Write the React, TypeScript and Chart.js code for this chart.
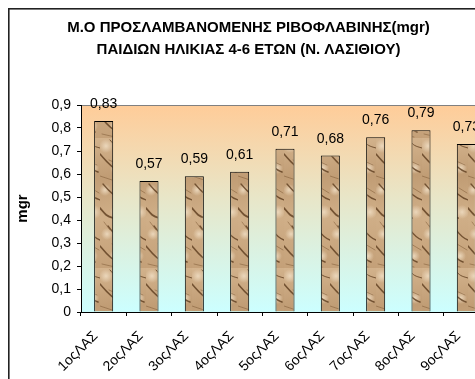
import React, { useEffect, useRef } from 'react';
import { Chart, registerables } from 'chart.js';

Chart.register(...registerables);

const categories = ['1οςΛΑΣ', '2οςΛΑΣ', '3οςΛΑΣ', '4οςΛΑΣ', '5οςΛΑΣ', '6οςΛΑΣ', '7οςΛΑΣ', '8οςΛΑΣ', '9οςΛΑΣ'];
const values = [0.83, 0.57, 0.59, 0.61, 0.71, 0.68, 0.76, 0.79, 0.73];
const titleLines = ['Μ.Ο ΠΡΟΣΛΑΜΒΑΝΟΜΕΝΗΣ ΡΙΒΟΦΛΑΒΙΝΗΣ(mgr)', 'ΠΑΙΔΙΩΝ ΗΛΙΚΙΑΣ 4-6 ΕΤΩΝ (Ν. ΛΑΣΙΘΙΟΥ)'];
const yAxisTitle = 'mgr';
const yMin = 0;
const yMax = 0.9;
const yStep = 0.1;

const W = 495;
const H = 400;
const FONT = '"Liberation Sans", Arial, sans-serif';

const fmt = (v: number, d: number) => (v === 0 ? '0' : v.toFixed(d).replace('.', ','));

function makeTexture(ctx: CanvasRenderingContext2D) {
  const tw = 23;
  const th = 130;
  const c = document.createElement('canvas');
  c.width = tw;
  c.height = th;
  const g = c.getContext('2d')!;
  const grad = g.createLinearGradient(0, 0, tw, th);
  grad.addColorStop(0, '#d4b48e');
  grad.addColorStop(0.3, '#c09c74');
  grad.addColorStop(0.6, '#d0af88');
  grad.addColorStop(1, '#c4a078');
  g.fillStyle = grad;
  g.fillRect(0, 0, tw, th);
  const light = [[6, 8, 7], [16, 30, 6], [5, 52, 6], [17, 74, 7], [7, 96, 6], [15, 118, 6]];
  light.forEach(([x, y, r]) => {
    const rg = g.createRadialGradient(x, y, 0, x, y, r);
    rg.addColorStop(0, 'rgba(240,222,196,0.85)');
    rg.addColorStop(1, 'rgba(240,222,196,0)');
    g.fillStyle = rg;
    g.fillRect(x - r, y - r, r * 2, r * 2);
  });
  g.lineCap = 'round';
  const dark = [
    [0, 16, 21, 34, 1.6],
    [3, 46, 23, 62, 1.3],
    [0, 70, 13, 80, 1.8],
    [8, 88, 23, 102, 1.4],
    [0, 108, 18, 124, 1.6],
    [10, 2, 23, 10, 1.0],
  ];
  dark.forEach(([x1, y1, x2, y2, w]) => {
    g.strokeStyle = 'rgba(92,60,30,0.8)';
    g.lineWidth = w;
    g.beginPath();
    g.moveTo(x1, y1);
    g.bezierCurveTo(x1 + 5, y1 + 6, x2 - 7, y2 - 2, x2, y2);
    g.stroke();
  });
  g.strokeStyle = 'rgba(130,92,56,0.55)';
  g.lineWidth = 1;
  const mid = [[0, 38, 12, 42], [9, 22, 20, 27], [2, 126, 15, 129], [14, 50, 22, 55], [4, 84, 10, 92], [12, 106, 22, 112]];
  mid.forEach(([x1, y1, x2, y2]) => {
    g.beginPath();
    g.moveTo(x1, y1);
    g.lineTo(x2, y2);
    g.stroke();
  });
  return ctx.createPattern(c, 'repeat')!;
}

const bgPlugin = {
  id: 'bgPlugin',
  beforeDraw(chart: any) {
    const { ctx, chartArea: a } = chart;
    ctx.save();
    ctx.fillStyle = '#ffffff';
    ctx.fillRect(0, 0, chart.width, chart.height);
    const grad = ctx.createLinearGradient(0, a.top, 0, a.bottom);
    grad.addColorStop(0, '#ffcc99');
    grad.addColorStop(0.45, '#e8e6c8');
    grad.addColorStop(1, '#ccffff');
    ctx.fillStyle = grad;
    ctx.fillRect(a.left, a.top, a.right - a.left, a.bottom - a.top);
    ctx.strokeStyle = '#808080';
    ctx.lineWidth = 1;
    ctx.beginPath();
    ctx.moveTo(a.left, a.top + 0.5);
    ctx.lineTo(a.right - 0.5, a.top + 0.5);
    ctx.lineTo(a.right - 0.5, a.bottom);
    ctx.stroke();
    ctx.strokeStyle = '#222222';
    ctx.lineWidth = 1.6;
    ctx.strokeRect(0.8, 0.8, chart.width - 1.6, chart.height - 1.6);
    ctx.restore();
  },
};

const labelPlugin = {
  id: 'labelPlugin',
  afterDatasetsDraw(chart: any) {
    const { ctx } = chart;
    const meta = chart.getDatasetMeta(0);
    ctx.save();
    ctx.font = `14px ${FONT}`;
    ctx.fillStyle = '#000000';
    ctx.textAlign = 'center';
    ctx.textBaseline = 'alphabetic';
    meta.data.forEach((bar: any, i: number) => {
      ctx.fillText(fmt(values[i], 2), bar.x, bar.y - 13);
    });
    ctx.restore();
  },
};

export default function App() {
  const ref = useRef<HTMLCanvasElement>(null);
  useEffect(() => {
    const canvas = ref.current!;
    const ctx = canvas.getContext('2d')!;
    const texture = makeTexture(ctx);
    const chart = new Chart(canvas, {
      type: 'bar',
      data: {
        labels: categories,
        datasets: [
          {
            data: values,
            backgroundColor: texture as any,
            borderColor: '#000000',
            borderWidth: 1,
            categoryPercentage: 1,
            barPercentage: 0.42,
          },
        ],
      },
      options: {
        responsive: false,
        animation: false,
        devicePixelRatio: 1,
        layout: { padding: { left: 0, right: 14, top: 0, bottom: 0 } },
        plugins: {
          legend: { display: false },
          tooltip: { enabled: false },
          title: {
            display: true,
            text: titleLines,
            color: '#000000',
            font: { family: FONT, size: 15, weight: 'bold', lineHeight: '22px' },
            padding: { top: 9, bottom: 44 },
          },
        },
        scales: {
          x: {
            afterFit(scale: any) {
              scale.height = H - 304;
            },
            grid: { display: true, drawOnChartArea: false, offset: true, tickLength: 4, color: '#000000' },
            border: { display: true, color: '#000000', width: 1 },
            ticks: {
              color: '#000000',
              font: { family: FONT, size: 14 },
              maxRotation: 45,
              minRotation: 45,
              autoSkip: false,
              padding: 12,
              labelOffset: -8,
            },
          },
          y: {
            min: yMin,
            max: yMax,
            afterFit(scale: any) {
              scale.width = 73;
            },
            grid: { display: true, drawOnChartArea: false, tickLength: 4, color: '#000000' },
            border: { display: true, color: '#000000', width: 1 },
            ticks: {
              stepSize: yStep,
              color: '#000000',
              font: { family: FONT, size: 14 },
              padding: 6,
              callback: (v: any) => fmt(Number(v), 1),
            },
            title: {
              display: true,
              text: yAxisTitle,
              color: '#000000',
              font: { family: FONT, size: 15, weight: 'bold' },
              padding: { top: 6, bottom: 0 },
            },
          },
        },
      },
      plugins: [bgPlugin, labelPlugin],
    });
    return () => chart.destroy();
  }, []);

  return (
    <div style={{ position: 'fixed', left: 8, top: 8, width: 467, height: 371, overflow: 'hidden' }}>
      <canvas ref={ref} width={W} height={H} />
    </div>
  );
}
